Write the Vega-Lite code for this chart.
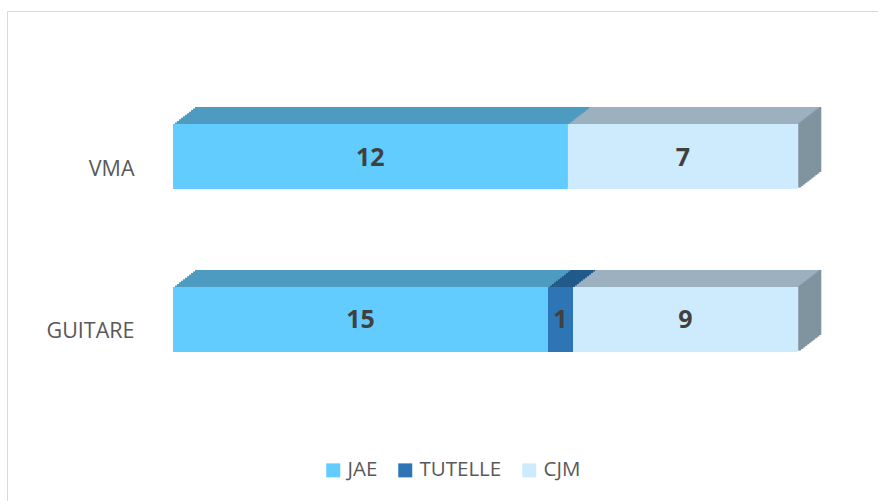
{
  "$schema": "https://vega.github.io/schema/vega-lite/v6.json",
  "width": 871,
  "height": 490,
  "autosize": {"type": "none"},
  "padding": {"left": 7, "top": 11, "right": 0, "bottom": 0},
  "background": "white",
  "config": {
    "view": {"stroke": "#D9D9D9", "strokeWidth": 1},
    "legend": {
      "labelFont": "Open Sans", "labelFontSize": 20.5, "labelColor": "#595959",
      "symbolType": "square", "symbolSize": 196, "symbolStrokeWidth": 0,
      "columnPadding": 17, "labelOffset": 4
    }
  },
  "data": {
    "values": [
      {"cat": "VMA", "serie": "JAE", "val": 12, "ordre": 1},
      {"cat": "VMA", "serie": "CJM", "val": 7, "ordre": 3},
      {"cat": "GUITARE", "serie": "JAE", "val": 15, "ordre": 1},
      {"cat": "GUITARE", "serie": "TUTELLE", "val": 1, "ordre": 2},
      {"cat": "GUITARE", "serie": "CJM", "val": 9, "ordre": 3}
    ]
  },
  "encoding": {
    "y": {
      "field": "cat", "type": "nominal", "sort": ["VMA", "GUITARE"], "title": null,
      "scale": {"paddingInner": 0.6012, "paddingOuter": 0.8037, "align": 0.4313},
      "axis": {"domain": false, "ticks": false, "tickSize": 0, "offset": -132, "labelPadding": 5, "labelOffset": 13,
               "labelFont": "Open Sans", "labelFontSize": 21.5, "labelColor": "#595959", "labelAlign": "right"}
    },
    "x": {
      "field": "val", "type": "quantitative", "stack": "normalize", "axis": null,
      "scale": {"domain": [-0.2656, 1.128], "nice": false, "zero": false}
    },
    "order": {"field": "ordre", "type": "quantitative"}
  },
  "resolve": {"scale": {"color": "independent"}, "legend": {"color": "independent"}},
  "layer": [
    {
      "encoding": {"color": {"field": "serie", "type": "nominal", "legend": null,
        "scale": {"domain": ["JAE", "TUTELLE", "CJM"], "range": ["#4E9BC1", "#235A8C", "#9CB1C0"]}}},
      "layer": [
        {"mark": {"type": "bar", "xOffset": 22, "yOffset": -17, "opacity": 1}},
        {"mark": {"type": "bar", "xOffset": 20, "yOffset": -15.45, "opacity": 1}},
        {"mark": {"type": "bar", "xOffset": 18, "yOffset": -13.91, "opacity": 1}},
        {"mark": {"type": "bar", "xOffset": 16, "yOffset": -12.36, "opacity": 1}},
        {"mark": {"type": "bar", "xOffset": 14, "yOffset": -10.82, "opacity": 1}},
        {"mark": {"type": "bar", "xOffset": 12, "yOffset": -9.27, "opacity": 1}},
        {"mark": {"type": "bar", "xOffset": 10, "yOffset": -7.73, "opacity": 1}},
        {"mark": {"type": "bar", "xOffset": 8, "yOffset": -6.18, "opacity": 1}},
        {"mark": {"type": "bar", "xOffset": 6, "yOffset": -4.64, "opacity": 1}},
        {"mark": {"type": "bar", "xOffset": 4, "yOffset": -3.09, "opacity": 1}},
        {"mark": {"type": "bar", "xOffset": 2, "yOffset": -1.55, "opacity": 1}}
      ]
    },
    {
      "transform": [{"filter": "datum.ordre == 3"}],
      "encoding": {"x": {"datum": 1, "type": "quantitative"}},
      "layer": [
        {"mark": {"type": "tick", "xOffset": 22, "yOffset": -17, "thickness": 2.6, "size": 65, "color": "#7F949F", "opacity": 1}},
        {"mark": {"type": "tick", "xOffset": 20, "yOffset": -15.45, "thickness": 2.6, "size": 65, "color": "#7F949F", "opacity": 1}},
        {"mark": {"type": "tick", "xOffset": 18, "yOffset": -13.91, "thickness": 2.6, "size": 65, "color": "#7F949F", "opacity": 1}},
        {"mark": {"type": "tick", "xOffset": 16, "yOffset": -12.36, "thickness": 2.6, "size": 65, "color": "#7F949F", "opacity": 1}},
        {"mark": {"type": "tick", "xOffset": 14, "yOffset": -10.82, "thickness": 2.6, "size": 65, "color": "#7F949F", "opacity": 1}},
        {"mark": {"type": "tick", "xOffset": 12, "yOffset": -9.27, "thickness": 2.6, "size": 65, "color": "#7F949F", "opacity": 1}},
        {"mark": {"type": "tick", "xOffset": 10, "yOffset": -7.73, "thickness": 2.6, "size": 65, "color": "#7F949F", "opacity": 1}},
        {"mark": {"type": "tick", "xOffset": 8, "yOffset": -6.18, "thickness": 2.6, "size": 65, "color": "#7F949F", "opacity": 1}},
        {"mark": {"type": "tick", "xOffset": 6, "yOffset": -4.64, "thickness": 2.6, "size": 65, "color": "#7F949F", "opacity": 1}},
        {"mark": {"type": "tick", "xOffset": 4, "yOffset": -3.09, "thickness": 2.6, "size": 65, "color": "#7F949F", "opacity": 1}},
        {"mark": {"type": "tick", "xOffset": 2, "yOffset": -1.55, "thickness": 2.6, "size": 65, "color": "#7F949F", "opacity": 1}}
      ]
    },
    {"mark": {"type": "bar", "opacity": 1},
     "encoding": {"color": {"field": "serie", "type": "nominal", "title": null,
       "scale": {"domain": ["JAE", "TUTELLE", "CJM"], "range": ["#63CCFF", "#2E75B6", "#CDEBFC"]},
       "legend": {"orient": "none", "direction": "horizontal", "legendX": 316, "legendY": 449, "title": null}}}},
    {"mark": {"type": "text", "font": "Open Sans", "fontWeight": "bold", "fontSize": 25, "color": "#404040", "dy": 1},
     "encoding": {
       "x": {"field": "val", "type": "quantitative", "stack": "normalize", "bandPosition": 0.5},
       "text": {"field": "val", "type": "quantitative"},
       "detail": {"field": "serie"}
     }}
  ]
}
